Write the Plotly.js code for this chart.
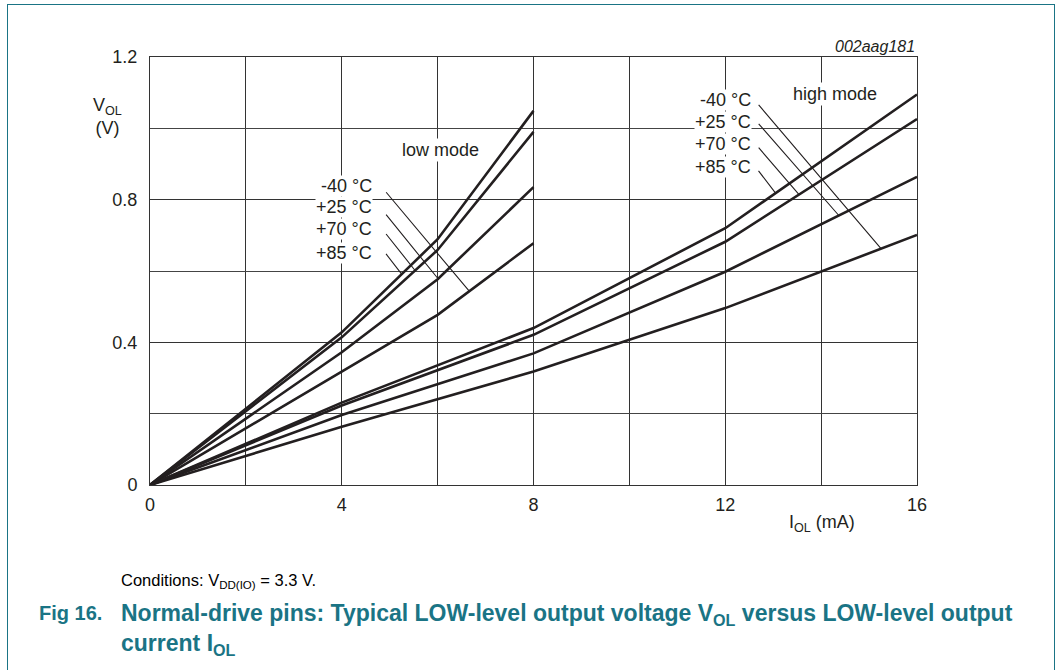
<!DOCTYPE html>
<html>
<head>
<meta charset="utf-8">
<script src="https://cdn.plot.ly/plotly-3.0.1.min.js"></script>
<style>
  html, body { margin: 0; padding: 0; background: #fff; }
  #frame { position: absolute; left: 7px; top: 4px; width: 1048px; height: 720px; border: 1.5px solid #1a7485; box-sizing: border-box; }
  #chart { position: absolute; left: 0; top: 0; width: 1063px; height: 670px; }
</style>
</head>
<body>
<div id="frame"></div>
<div id="chart"></div>
<script>
// ---- data ----
const temps = ['-40 °C', '+25 °C', '+70 °C', '+85 °C'];
const lowX = [0, 4, 6, 8];
const lowM40 = [0, 0.318, 0.477, 0.678];
const lowP25 = [0, 0.372, 0.577, 0.835];
const lowP70 = [0, 0.414, 0.659, 0.990];
const lowP85 = [0, 0.428, 0.689, 1.049];
const highX = [0, 4, 8, 12, 16];
const highM40 = [0, 0.163, 0.318, 0.496, 0.701];
const highP25 = [0, 0.196, 0.369, 0.598, 0.864];
const highP70 = [0, 0.223, 0.421, 0.682, 1.026];
const highP85 = [0, 0.231, 0.440, 0.720, 1.095];
const xTicks = [0, 4, 8, 12, 16];
const yTicks = [0, 0.4, 0.8, 1.2];
const yTickText = ['0', '0.4', '0.8', '1.2'];

// leader-line positions (annotation anchors)
const lowLeaderEndX = [6.66, 6.01, 5.53, 5.25];
const lowLeaderStart = {x: 4.90, y: [0.825, 0.762, 0.708, 0.652]};
const lowLabelPos = {x: 4.645, y: [0.838, 0.779, 0.717, 0.651]};
const highLeaderEndX = [15.25, 14.37, 13.54, 13.05];
const highLeaderStart = {x: 12.67, y: [1.070, 1.017, 0.950, 0.885]};
const highLabelPos = {x: 12.55, y: [1.079, 1.018, 0.956, 0.892]};

function interp(xs, ys, x) {
  for (let i = 0; i < xs.length - 1; i++) {
    if (x >= xs[i] && x <= xs[i + 1]) {
      return ys[i] + (ys[i + 1] - ys[i]) * (x - xs[i]) / (xs[i + 1] - xs[i]);
    }
  }
  return ys[ys.length - 1];
}

const lowSeries = [lowM40, lowP25, lowP70, lowP85];
const highSeries = [highM40, highP25, highP70, highP85];
const lineColor = '#231f20';
const traces = [];
lowSeries.forEach((ys, i) => traces.push({x: lowX, y: ys, mode: 'lines', name: 'low ' + temps[i], line: {color: lineColor, width: 2.6}, hoverinfo: 'skip'}));
highSeries.forEach((ys, i) => traces.push({x: highX, y: ys, mode: 'lines', name: 'high ' + temps[i], line: {color: lineColor, width: 2.6}, hoverinfo: 'skip'}));

const font = 'Liberation Sans, Arial, sans-serif';
const annotations = [];
temps.forEach((t, i) => {
  annotations.push({x: lowLeaderEndX[i], y: interp(lowX, lowSeries[i], lowLeaderEndX[i]), ax: lowLeaderStart.x, ay: lowLeaderStart.y[i], axref: 'x', ayref: 'y', xref: 'x', yref: 'y', text: '', showarrow: true, arrowhead: 0, arrowwidth: 1.1, arrowcolor: lineColor, standoff: 0, startstandoff: 0});
  annotations.push({x: highLeaderEndX[i], y: interp(highX, highSeries[i], highLeaderEndX[i]), ax: highLeaderStart.x, ay: highLeaderStart.y[i], axref: 'x', ayref: 'y', xref: 'x', yref: 'y', text: '', showarrow: true, arrowhead: 0, arrowwidth: 1.1, arrowcolor: lineColor, standoff: 0, startstandoff: 0});
  annotations.push({x: lowLabelPos.x, y: lowLabelPos.y[i], xref: 'x', yref: 'y', xanchor: 'right', yanchor: 'middle', text: t, showarrow: false, bgcolor: '#fff', borderpad: 0, font: {family: font, size: 18, color: '#231f20'}});
  annotations.push({x: highLabelPos.x, y: highLabelPos.y[i], xref: 'x', yref: 'y', xanchor: 'right', yanchor: 'middle', text: t, showarrow: false, bgcolor: '#fff', borderpad: 0, font: {family: font, size: 18, color: '#231f20'}});
});
annotations.push({x: 6.05, y: 0.939, xref: 'x', yref: 'y', text: 'low mode', showarrow: false, bgcolor: '#fff', borderpad: 1, font: {family: font, size: 18, color: '#231f20'}});
annotations.push({x: 14.29, y: 1.096, xref: 'x', yref: 'y', text: 'high mode', showarrow: false, bgcolor: '#fff', borderpad: 1, font: {family: font, size: 18, color: '#231f20'}});
// axis labels
annotations.push({x: -0.055, y: 0.862, xref: 'paper', yref: 'paper', xanchor: 'center', yanchor: 'middle', text: 'V<sub>OL</sub><br>(V)', align: 'center', showarrow: false, font: {family: font, size: 18, color: '#231f20'}});
annotations.push({x: 0.876, y: -0.09, xref: 'paper', yref: 'paper', xanchor: 'center', yanchor: 'middle', text: 'I<sub>OL</sub> (mA)', showarrow: false, font: {family: font, size: 18, color: '#231f20'}});
annotations.push({x: 1.0, y: 1.025, xref: 'paper', yref: 'paper', xanchor: 'right', yanchor: 'middle', text: '<i>002aag181</i>', showarrow: false, font: {family: font, size: 16, color: '#231f20'}});
// conditions & caption
annotations.push({x: -0.04, y: -0.224, xref: 'paper', yref: 'paper', xanchor: 'left', yanchor: 'middle', text: 'Conditions: V<sub>DD(IO)</sub> = 3.3 V.', showarrow: false, font: {family: font, size: 16.5, color: '#000'}});
annotations.push({x: -0.147, y: -0.268, xref: 'paper', yref: 'paper', xanchor: 'left', yanchor: 'top', text: '<b>Fig 16.</b>', showarrow: false, font: {family: font, size: 20, color: '#1a7485'}});
annotations.push({x: -0.04, y: -0.2645, xref: 'paper', yref: 'paper', xanchor: 'left', yanchor: 'top', align: 'left', text: '<b>Normal-drive pins: Typical LOW-level output voltage V<sub>OL</sub> versus LOW-level output<br>current I<sub>OL</sub></b>', showarrow: false, font: {family: font, size: 23, color: '#1a7485'}});

const layout = {
  width: 1063, height: 670,
  margin: {l: 150, r: 146, t: 57, b: 185},
  paper_bgcolor: 'rgba(0,0,0,0)', plot_bgcolor: '#fff',
  showlegend: false,
  font: {family: font, size: 18, color: '#231f20'},
  xaxis: {range: [0, 16], tickvals: xTicks, ticktext: xTicks.map(String), ticks: '', showgrid: true, gridcolor: '#333', gridwidth: 1,
          minor: {dtick: 2, showgrid: true, gridcolor: '#333', gridwidth: 1},
          showline: true, linecolor: '#333', linewidth: 1, mirror: true, zeroline: false, fixedrange: true,
          ticklabelstandoff: 3,
          tickfont: {family: font, size: 18, color: '#231f20'}},
  yaxis: {range: [0, 1.2], tickvals: yTicks, ticktext: yTickText, ticks: '', showgrid: true, gridcolor: '#333', gridwidth: 1,
          minor: {dtick: 0.2, showgrid: true, gridcolor: '#444', gridwidth: 1},
          showline: true, linecolor: '#333', linewidth: 1, mirror: true, zeroline: false, fixedrange: true,
          ticklabelstandoff: 8,
          tickfont: {family: font, size: 18, color: '#231f20'}},
  annotations: annotations
};
Plotly.newPlot('chart', traces, layout, {displayModeBar: false, staticPlot: true});
</script>
</body>
</html>
